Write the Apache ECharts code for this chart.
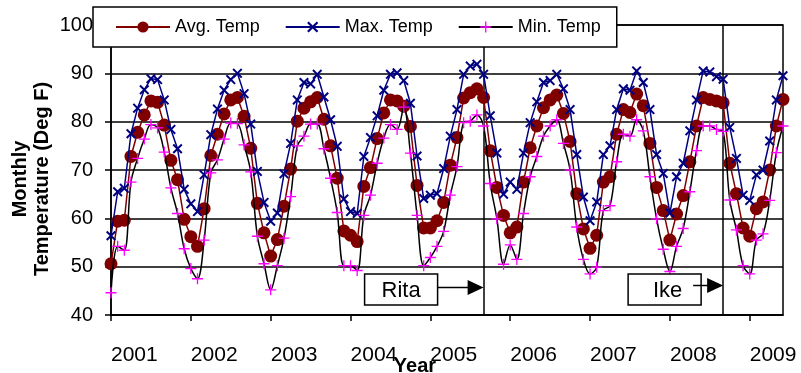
<!DOCTYPE html>
<html>
<head>
<meta charset="utf-8">
<script src="https://cdn.jsdelivr.net/npm/echarts@6/dist/echarts.min.js"></script>
<style>
html,body{margin:0;padding:0;background:#fff;}
#chart{width:801px;height:373px;}
</style>
</head>
<body>
<div id="chart"></div>
<script>
// ---- data ----
const years = ['2001','2002','2003','2004','2005','2006','2007','2008','2009'];
const months = ['01','02','03','04','05','06','07','08','09','10','11','12'];
const lastMonthCount = 6; // data runs Jan 2001 .. Jun 2009

const avgTemp = [
 50.6,59.4,59.6,72.8,77.8,81.4,84.3,84.0,79.3,72.0,68.0,59.8,
 56.2,54.2,62.0,73.0,77.4,81.6,84.5,85.0,81.1,74.5,63.1,57.0,
 52.2,55.6,62.5,70.2,80.1,82.8,84.1,85.0,80.5,75.0,68.3,57.4,
 56.5,55.2,66.6,70.5,76.5,81.8,84.5,84.3,83.2,79.0,66.8,58.0,
 58.0,59.5,63.3,71.0,76.7,84.9,86.0,86.8,85.0,74.0,66.4,60.6,
 57.0,58.2,67.5,74.6,79.1,82.9,84.5,85.5,81.7,75.9,65.1,57.8,
 53.8,56.5,67.5,68.6,77.4,82.5,81.9,85.7,83.3,75.5,66.4,61.6,
 55.5,60.9,64.7,71.7,79.1,85.0,84.6,84.3,83.9,71.4,65.1,58.0,
 56.3,62.0,63.4,70.0,79.1,84.6
];
const maxTemp = [
 56.4,65.5,66.2,77.5,82.8,86.6,88.9,88.7,84.5,78.4,74.4,66.0,
 63.0,61.4,69.0,77.3,82.6,86.5,88.7,90.0,85.8,79.5,69.7,63.3,
 59.4,61.1,69.2,75.5,84.5,88.1,87.8,89.8,85.1,80.4,74.9,64.0,
 61.4,61.0,72.8,76.7,81.2,86.5,89.8,90.1,88.5,83.8,72.9,64.1,
 64.8,65.1,70.3,77.0,82.5,89.8,91.5,91.9,89.8,81.2,73.5,65.0,
 67.5,66.0,73.5,79.8,84.1,88.1,88.5,89.8,86.8,82.5,73.2,64.4,
 59.5,63.4,73.2,75.0,82.5,86.8,86.5,90.5,88.1,82.5,73.2,69.3,
 61.1,68.6,71.4,78.1,84.5,90.5,90.3,89.3,88.8,78.8,72.4,64.8,
 63.7,69.0,70.0,76.0,84.5,89.5
];
const minTemp = [
 44.6,54.2,53.4,67.5,72.4,76.4,79.4,78.7,73.7,66.3,61.0,53.7,
 49.6,47.5,55.5,69.4,72.1,76.4,79.7,79.6,75.2,69.6,56.3,50.6,
 45.2,50.2,55.9,64.5,75.0,77.0,79.5,79.5,74.4,68.3,61.2,50.2,
 50.2,49.2,60.6,64.8,71.4,76.6,79.4,78.4,83.0,73.5,60.6,50.2,
 51.9,54.2,57.3,64.8,70.7,79.8,80.1,81.4,79.1,67.2,59.9,50.5,
 54.5,51.5,61.0,68.6,72.8,77.0,79.1,80.4,75.5,70.0,58.2,51.5,
 48.5,49.9,61.6,62.6,71.7,77.4,77.0,80.4,78.1,68.6,59.9,53.6,
 49.0,54.2,57.9,65.5,74.0,79.1,79.1,78.4,78.0,63.8,57.6,50.2,
 48.5,55.5,56.8,63.7,73.6,79.1
];
const events = [ {name:'Rita', month:'2005-09'}, {name:'Ike', month:'2008-09'} ];
const yTicks = [40,50,60,70,80,90,100];

// ---- categories (one per month) ----
const cats = [];
years.forEach((y, yi) => {
  const n = (yi === years.length - 1) ? lastMonthCount : 12;
  for (let m = 0; m < n; m++) cats.push(y + '-' + months[m]);
});

const FONT = '"Liberation Sans", Arial, sans-serif';
const chart = echarts.init(document.getElementById('chart'), null, {renderer:'canvas'});

const xPath = 'path://M0,1.4 L1.4,0 L5,3.6 L8.6,0 L10,1.4 L6.4,5 L10,8.6 L8.6,10 L5,6.4 L1.4,10 L0,8.6 L3.6,5 Z';
const plusPath = 'path://M4.4,0 H5.6 V4.4 H10 V5.6 H5.6 V10 H4.4 V5.6 H0 V4.4 H4.4 Z';

chart.setOption({
  animation: false,
  backgroundColor: '#fff',
  grid: { left: 111, right: 18, top: 25, bottom: 58, show: true, borderColor: '#000', borderWidth: 1.5, backgroundColor: 'transparent' },
  legend: {
    left: 93, top: 7, z: 20, zlevel: 0,
    padding: [11, 16, 11, 22],
    backgroundColor: '#fff', borderColor: '#000', borderWidth: 1.5, borderRadius: 0,
    itemWidth: 54, itemHeight: 14, itemGap: 25,
    textStyle: { fontFamily: FONT, fontSize: 18, color: '#000' },
    data: ['Avg. Temp', 'Max. Temp', 'Min. Temp']
  },
  xAxis: {
    type: 'category', data: cats, boundaryGap: false,
    axisLine: { lineStyle: { color: '#000', width: 1.5 } },
    axisTick: { interval: 11, length: 6, lineStyle: { color: '#000', width: 1.5 } },
    axisLabel: {
      interval: 11, align: 'left', margin: 30,
      fontFamily: FONT, fontSize: 21, color: '#000',
      formatter: v => v.slice(0, 4)
    },
    splitLine: { show: false }
  },
  yAxis: {
    type: 'value', min: yTicks[0], max: yTicks[yTicks.length-1], interval: 10,
    axisLine: { show: true, lineStyle: { color: '#000', width: 1.5 } },
    axisTick: { show: true, length: 6, lineStyle: { color: '#000', width: 1.5 } },
    axisLabel: { fontFamily: FONT, fontSize: 20, color: '#000', margin: 18 },
    splitLine: { lineStyle: { color: '#000', width: 1.5 } }
  },
  series: [
    {
      name: 'Avg. Temp', type: 'line', data: avgTemp, z: 3,
      symbol: 'circle', symbolSize: 13, showAllSymbol: true,
      lineStyle: { color: '#800000', width: 1.5 },
      itemStyle: { color: '#800000' },
      markLine: {
        silent: true, symbol: 'none', label: { show: false }, z: 2,
        lineStyle: { color: '#000', width: 1.5, type: 'solid' },
        data: events.map(e => ({ xAxis: e.month }))
      }
    },
    {
      name: 'Max. Temp', type: 'line', data: maxTemp, z: 4,
      symbol: xPath, symbolSize: 10, showAllSymbol: true,
      lineStyle: { color: '#000080', width: 1.5 },
      itemStyle: { color: '#000080' }
    },
    {
      name: 'Min. Temp', type: 'line', data: minTemp, smooth: 0.35, z: 5,
      symbol: plusPath, symbolSize: 11, showAllSymbol: true,
      lineStyle: { color: '#000', width: 1.5 },
      itemStyle: { color: '#ff00ff' }
    }
  ]
});

// ---- annotations anchored to event lines ----
function px(month, val) { return chart.convertToPixel({ xAxisIndex: 0, yAxisIndex: 0 }, [month, val]); }
const yBoxTop = px(cats[0], 40)[1] - 41;
const yBoxBot = px(cats[0], 40)[1] - 10;
const g = [];
events.forEach((e, i) => {
  const lx = px(e.month, 40)[0];
  const bw = 73;
  const bRight = lx - 46 + (i === 1 ? 24 : 0);
  const bLeft = bRight - bw;
  const ay = (yBoxTop + yBoxBot) / 2 + (i === 1 ? -4 : -2);
  g.push({ type: 'rect', shape: { x: bLeft, y: yBoxTop, width: bw, height: yBoxBot - yBoxTop },
           style: { fill: '#fff', stroke: '#000', lineWidth: 1.5 }, z: 100 });
  g.push({ type: 'text', x: bLeft + bw/2 + (i === 1 ? 3 : 0), y: (yBoxTop + yBoxBot)/2 + 1,
           style: { text: e.name, font: '22px ' + FONT, fill: '#000', align: 'center', verticalAlign: 'middle' }, z: 101 });
  const lineStart = (i === 1) ? bRight - 8 : bRight;
  g.push({ type: 'line', shape: { x1: lineStart, y1: ay, x2: lx - 15, y2: ay },
           style: { stroke: '#000', lineWidth: 1.5 }, z: 101 });
  g.push({ type: 'polygon', shape: { points: [[lx - 16, ay - 7.5], [lx, ay], [lx - 16, ay + 7.5]] },
           style: { fill: '#000' }, z: 101 });
});
g.push({ type: 'text', x: 31, y: 179, rotation: Math.PI / 2,
         style: { text: 'Monthly\nTemperature (Deg F)', font: 'bold 20px ' + FONT, fill: '#000',
                  align: 'center', verticalAlign: 'middle', lineHeight: 22 }, z: 100 });
g.push({ type: 'text', x: 415, y: 366,
         style: { text: 'Year', font: 'bold 20px ' + FONT, fill: '#000', align: 'center', verticalAlign: 'middle' }, z: 100 });
chart.setOption({ graphic: g });
</script>
</body>
</html>
